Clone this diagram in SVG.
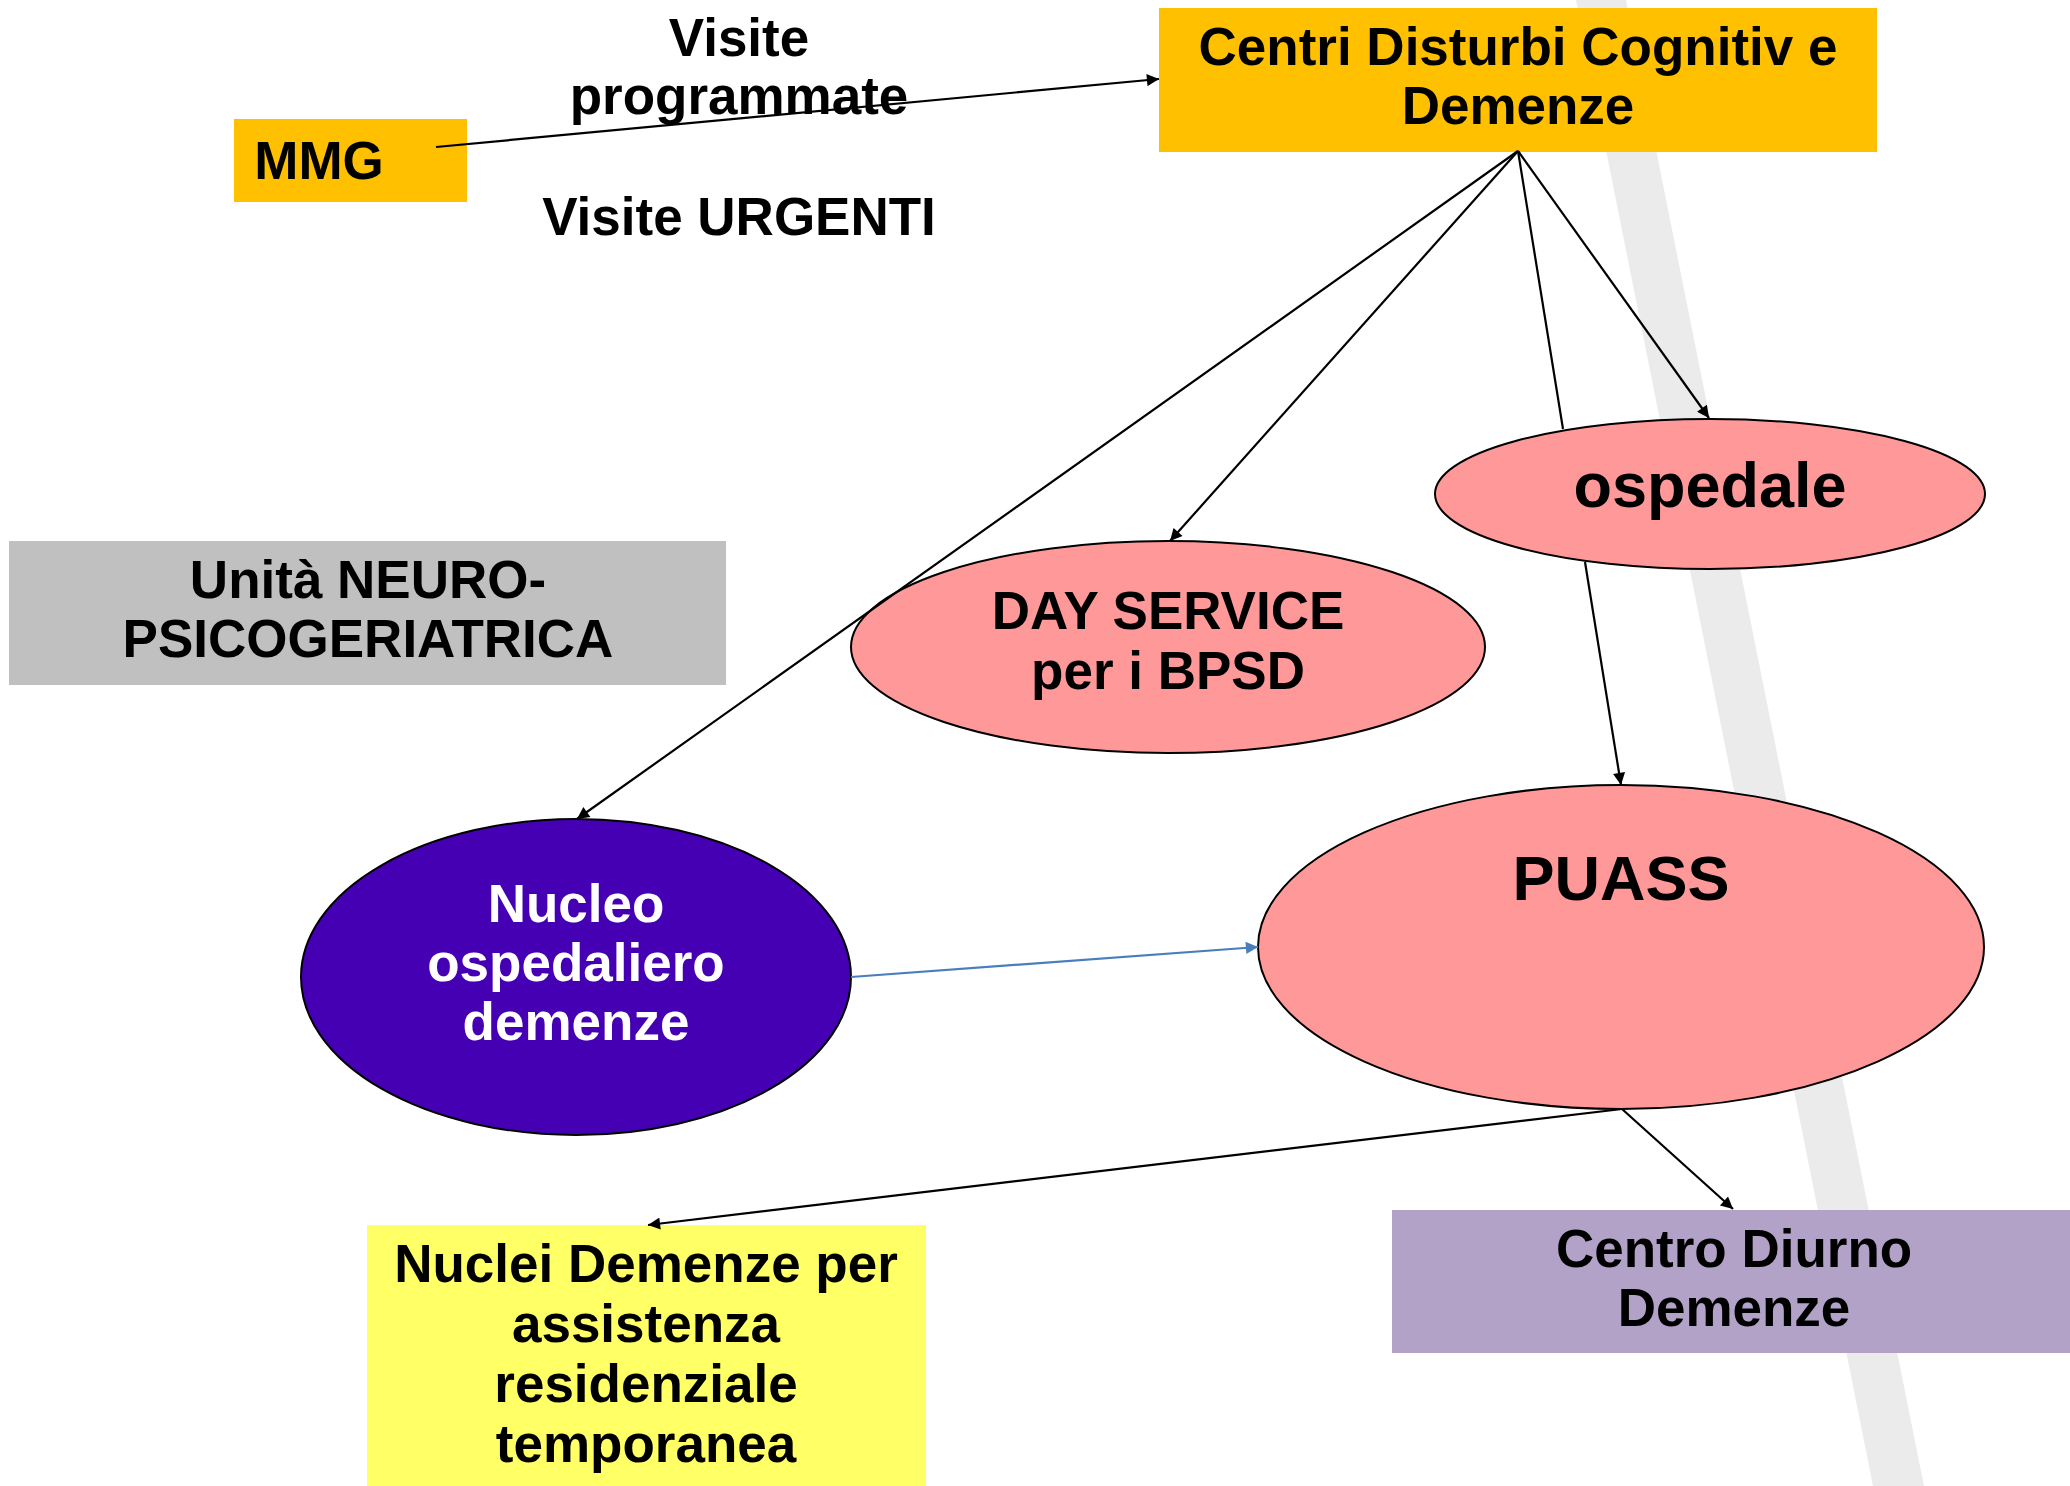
<svg xmlns="http://www.w3.org/2000/svg" width="2070" height="1486" viewBox="0 0 2070 1486">
<defs>
<marker id="ah" viewBox="0 0 10 10" refX="10" refY="5" markerWidth="6.5" markerHeight="5.5" orient="auto" markerUnits="strokeWidth">
<path d="M0,0 L10,5 L0,10 z" fill="#000"/>
</marker>
<marker id="ahb" viewBox="0 0 10 10" refX="10" refY="5" markerWidth="6.5" markerHeight="5.5" orient="auto" markerUnits="strokeWidth">
<path d="M0,0 L10,5 L0,10 z" fill="#4A7EBB"/>
</marker>
<style>
text{font-family:"Liberation Sans",Arial,sans-serif;font-weight:bold;text-anchor:middle;fill:#000}
.t52{font-size:53px}
.t62{font-size:63px}
.w{fill:#fff}
.ell{fill:#FF9999;stroke:#000;stroke-width:2}
.c{stroke:#000;stroke-width:2.2;fill:none}
</style>
</defs>
<rect width="2070" height="1486" fill="#fff"/>
<polygon id="band" points="1576,0 1626,0 1924,1486 1873,1486" fill="#EBEBEB"/>

<g id="mmg">
<rect x="234" y="119" width="233" height="83" fill="#FFC000"/>
<text class="t52" x="319" y="179">MMG</text>
</g>
<g id="label-visite">
<text class="t52" x="739" y="56">Visite</text>
<text class="t52" x="739" y="114">programmate</text>
</g>
<g id="label-urgenti">
<text class="t52" x="739" y="235">Visite URGENTI</text>
</g>
<g id="centri">
<rect x="1159" y="8" width="718" height="144" fill="#FFC000"/>
<text class="t52" x="1518" y="65">Centri Disturbi Cognitiv e</text>
<text class="t52" x="1518" y="124">Demenze</text>
</g>
<g id="unita">
<rect x="9" y="541" width="717" height="144" fill="#C0C0C0"/>
<text class="t52" x="368" y="598">Unità NEURO-</text>
<text class="t52" x="368" y="657">PSICOGERIATRICA</text>
</g>
<g id="ospedale">
<ellipse class="ell" cx="1710" cy="494" rx="275" ry="75"/>
<text class="t62" x="1710" y="507">ospedale</text>
</g>
<g id="dayservice">
<ellipse class="ell" cx="1168" cy="647" rx="317" ry="106"/>
<text class="t52" x="1168" y="629">DAY SERVICE</text>
<text class="t52" x="1168" y="689">per i BPSD</text>
</g>
<g id="nucleo">
<ellipse cx="576" cy="977" rx="275" ry="158" fill="#4600B4" stroke="#000" stroke-width="2"/>
<text class="t52 w" x="576" y="922">Nucleo</text>
<text class="t52 w" x="576" y="981">ospedaliero</text>
<text class="t52 w" x="576" y="1040">demenze</text>
</g>
<g id="puass">
<ellipse class="ell" cx="1621" cy="947" rx="363" ry="162"/>
<text class="t62" x="1621" y="900">PUASS</text>
</g>
<g id="nuclei">
<rect x="367" y="1225" width="559" height="261" fill="#FFFF66"/>
<text class="t52" x="646" y="1282">Nuclei Demenze per</text>
<text class="t52" x="646" y="1342">assistenza</text>
<text class="t52" x="646" y="1402">residenziale</text>
<text class="t52" x="646" y="1462">temporanea</text>
</g>
<g id="centrodiurno">
<rect x="1392" y="1210" width="678" height="143" fill="#B3A2C7"/>
<text class="t52" x="1734" y="1267">Centro Diurno</text>
<text class="t52" x="1734" y="1326">Demenze</text>
</g>

<g id="connectors">
<line class="c" x1="436" y1="147" x2="1159" y2="79" stroke-width="2.8" marker-end="url(#ah)"/>
<line class="c" x1="1518" y1="151" x2="577" y2="819" marker-end="url(#ah)"/>
<line class="c" x1="1518" y1="151" x2="1170" y2="541" marker-end="url(#ah)"/>
<line class="c" x1="1518" y1="151" x2="1563" y2="429"/>
<line class="c" x1="1518" y1="151" x2="1709" y2="418" marker-end="url(#ah)"/>
<line class="c" x1="1585" y1="562" x2="1621" y2="785" marker-end="url(#ah)"/>
<line x1="851" y1="977" x2="1258" y2="947" stroke="#4A7EBB" stroke-width="2.2" marker-end="url(#ahb)"/>
<line class="c" x1="1622" y1="1109" x2="648" y2="1225" stroke-width="2.8" marker-end="url(#ah)"/>
<line class="c" x1="1622" y1="1109" x2="1733" y2="1209" marker-end="url(#ah)"/>
</g>
</svg>
